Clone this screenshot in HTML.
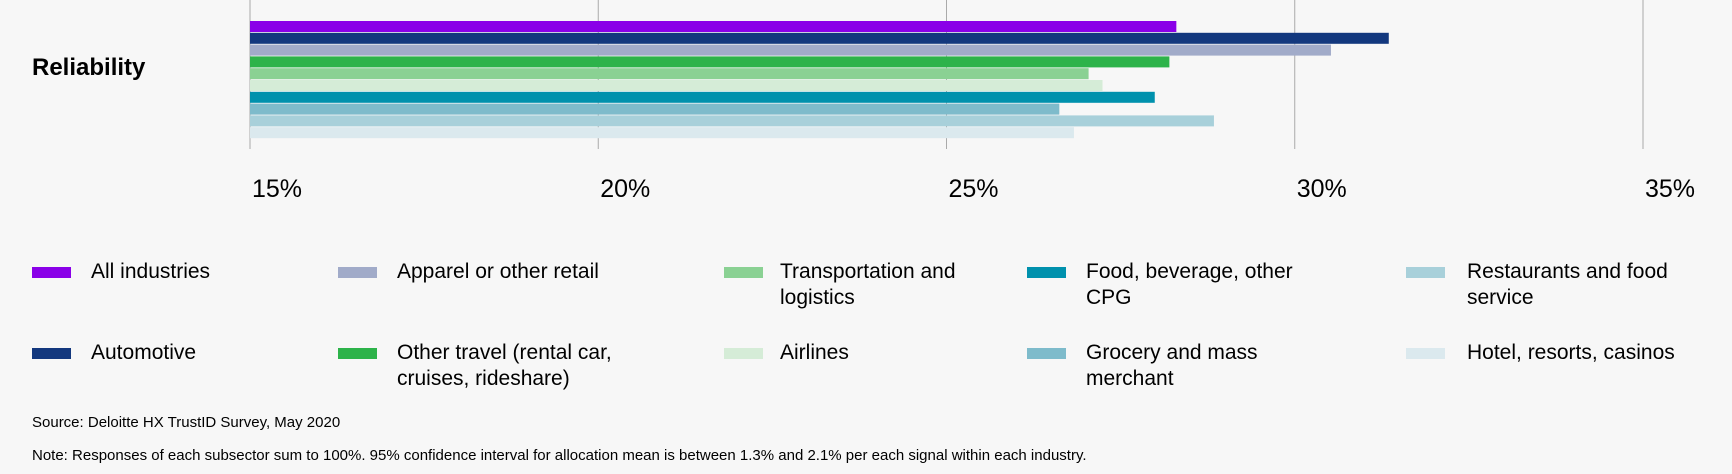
<!DOCTYPE html>
<html><head><meta charset="utf-8"><style>
body{margin:0;width:1732px;height:474px;background:#f7f7f7;font-family:"Liberation Sans",sans-serif;color:#000;position:relative;overflow:hidden}
.lg{position:absolute;font-size:21px;line-height:26px}
.sw{position:absolute;width:39px;height:11px}
.ft{position:absolute;left:32px;font-size:15px}
</style></head><body>
<svg id="chart" width="1732" height="220" style="position:absolute;left:0;top:0"></svg>
<div class="ft" style="top:414px">Source: Deloitte HX TrustID Survey, May 2020</div>
<div class="ft" style="top:447px">Note: Responses of each subsector sum to 100%. 95% confidence interval for allocation mean is between 1.3% and 2.1% per each signal within each industry.</div>
<div id="legend"></div>
<script>
const categories=["All industries","Automotive","Apparel or other retail","Other travel (rental car, cruises, rideshare)","Transportation and logistics","Airlines","Food, beverage, other CPG","Grocery and mass merchant","Restaurants and food service","Hotel, resorts, casinos"];
const values=[28.3,31.35,30.52,28.2,27.04,27.24,27.99,26.62,28.84,26.83];
const colors=["#8a00e8","#13387e","#a1abc9","#2db34a","#8ad193","#d5ecd7","#0091ad","#7ebbcb","#a8d0da","#dbe9ee"];
const ticks=[15,20,25,30,35];
const NS="http://www.w3.org/2000/svg";
const svg=document.getElementById('chart');
const x=v=>250+(v-15)*(1643-250)/20;
function mk(t,a){const e=document.createElementNS(NS,t);for(const k in a)e.setAttribute(k,a[k]);svg.appendChild(e);return e;}
ticks.forEach(t=>{
 const g=mk('line',{x1:x(t),x2:x(t),y1:0,y2:149,stroke:'#aaa','stroke-width':1});
 
 
 const l=mk('text',{x:x(t)+2,y:197,'font-size':25,'font-family':'Liberation Sans, sans-serif'});
 l.textContent=t+'%';
 
 
});
const yl=mk('text',{x:32,y:75,'font-size':24,'font-weight':'bold','font-family':'Liberation Sans, sans-serif'});
yl.textContent='Reliability';


values.forEach((v,i)=>{
 const r=mk('rect',{x:250,y:21+i*11.8,width:x(v)-250,height:11,fill:colors[i]});
 
 
});
const legend=document.getElementById('legend');
const order=[0,2,4,6,8,1,3,5,7,9];
const labels=["All industries","Apparel or other retail","Transportation and<br>logistics","Food, beverage, other<br>CPG","Restaurants and food<br>service","Automotive","Other travel (rental car,<br>cruises, rideshare)","Airlines","Grocery and mass<br>merchant","Hotel, resorts, casinos"];
const swx=[32,338,724,1027,1406],tx=[91,397,780,1086,1467],ry=[259,340];
order.forEach((ci,k)=>{
 const c=k%5,r=Math.floor(k/5);
 const s=document.createElement('div');s.className='sw';
 s.style.left=swx[c]+'px';s.style.top=(ry[r]+8)+'px';s.style.background=colors[ci];
 
 
 legend.appendChild(s);
 const t=document.createElement('div');t.className='lg';
 t.style.left=tx[c]+'px';t.style.top=ry[r]+'px';t.innerHTML=labels[k];
 
 
 legend.appendChild(t);
});
</script>
</body></html>
